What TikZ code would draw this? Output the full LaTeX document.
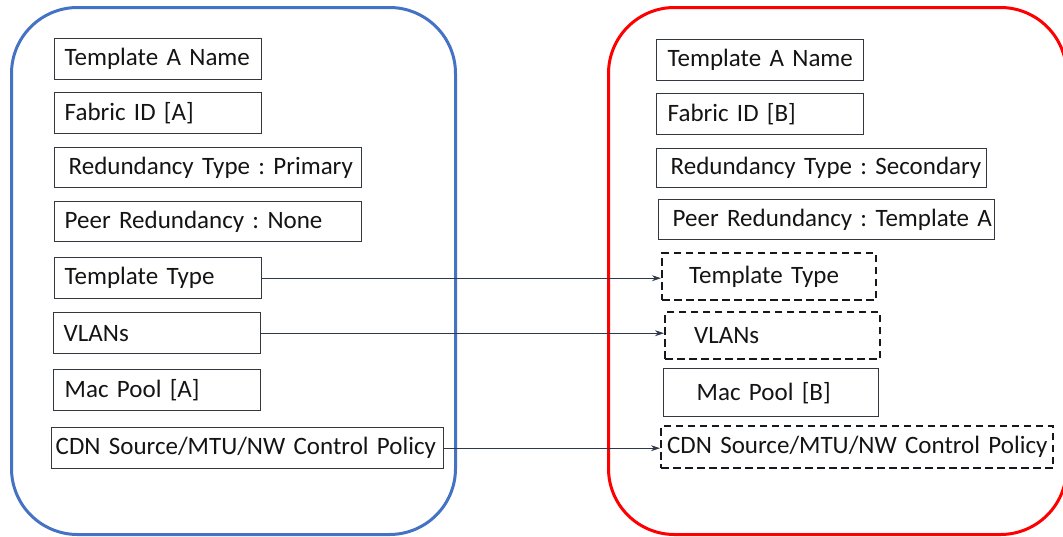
\documentclass[tikz,border=0pt]{standalone}
\usepackage{fontspec}
\setmainfont{Carlito}
\usetikzlibrary{arrows.meta}
\frenchspacing
\definecolor{frameblue}{HTML}{4472C4}
\definecolor{framered}{HTML}{FF0000}
\definecolor{boxline}{HTML}{33383F}
\definecolor{dashline}{HTML}{15181C}
\definecolor{arrowc}{HTML}{2E3A4C}
\definecolor{txt}{HTML}{141414}
\begin{document}
\begin{tikzpicture}[x=1pt,y=-1pt,
  panel/.style={line width=3pt, rounded corners=66pt, anchor=north west, inner sep=0pt},
  field/.style={draw=boxline, line width=1.4pt, anchor=north west, inner xsep=0pt, inner ysep=0pt,
                align=left, text=txt, font=\fontsize{25}{29}\selectfont},
  copied/.style={field, draw=dashline, line width=2.3pt, dash pattern=on 7.5pt off 4.5pt},
  link/.style={draw=arrowc, line width=1.1pt, -{Stealth[length=9pt,width=6pt]}}
]
\useasboundingbox (0,0) rectangle (1063,536);

% containers
\node[panel, draw=frameblue, minimum width=444pt, minimum height=527pt] (leftpanel) at (10,6) {};
\node[panel, draw=framered, minimum width=458pt, minimum height=527pt] (rightpanel) at (607,6) {};

% primary template fields
\node[field, text width=207pt, minimum height=41pt] (la) at (54,38) {\hspace*{10pt}Template A Name};
\node[field, text width=207pt, minimum height=41pt] (lb) at (54,92) {\hspace*{10pt}Fabric ID [A]};
\node[field, text width=307pt, minimum height=40pt] (lc) at (54,147) {\hspace*{14pt}Redundancy Type : Primary};
\node[field, text width=307pt, minimum height=40pt] (ld) at (54,201) {\hspace*{10pt}Peer Redundancy : None};
\node[field, text width=207pt, minimum height=41pt] (le) at (54,257) {\hspace*{10pt}Template Type};
\node[field, text width=207pt, minimum height=41pt] (lf) at (53,312) {\hspace*{10pt}VLANs};
\node[field, text width=207pt, minimum height=41pt] (lg) at (53,369) {\hspace*{11pt}Mac Pool [A]};
\node[field, text width=392pt, minimum height=41pt] (lh) at (51,427) {\hspace*{4pt}CDN Source/MTU/NW Control Policy};

% secondary template fields
\node[field, text width=207pt, minimum height=41pt] (ra) at (656,39) {\hspace*{11pt}Template A Name};
\node[field, text width=207pt, minimum height=41pt] (rb) at (656,93) {\hspace*{11pt}Fabric ID [B]};
\node[field, text width=330pt, minimum height=39pt] (rc) at (656,148) {\hspace*{14pt}Redundancy Type : Secondary};
\node[field, text width=336pt, minimum height=40pt] (rd) at (658,199) {\hspace*{14pt}Peer Redundancy : Template A};
\node[copied, text width=214pt, minimum height=47pt] (re) at (661,252) {\hspace*{27pt}Template Type};
\node[copied, text width=215pt, minimum height=47pt] (rf) at (664,311) {\hspace*{29pt}VLANs};
\node[field, text width=215pt, minimum height=48pt] (rg) at (663,368) {\hspace*{33pt}Mac Pool [B]};
\node[copied, text width=392pt, minimum height=42pt] (rh) at (660,425) {\hspace*{6pt}CDN Source/MTU/NW Control Policy};

% inherited settings
\draw[link] (le.east) -- (re.west |- le.east);
\draw[link] (lf.east) -- (rf.west |- lf.east);
\draw[link] (lh.east) -- (rh.west |- lh.east);
\end{tikzpicture}
\end{document}
